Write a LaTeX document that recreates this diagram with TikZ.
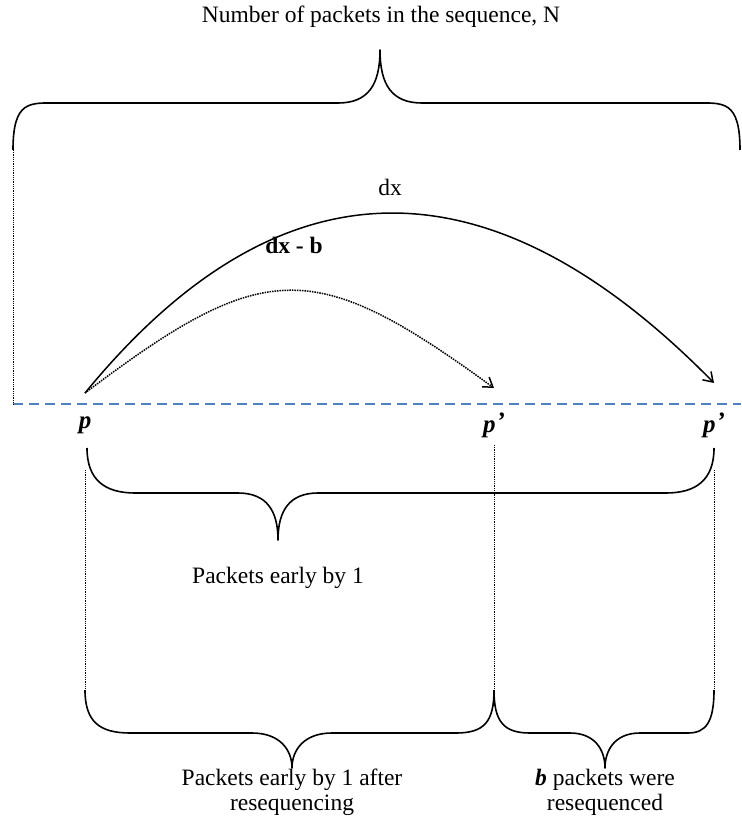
\documentclass[tikz,border=0pt]{standalone}
\usepackage{fontspec}
\setmainfont{Liberation Serif}
\usetikzlibrary{arrows.meta}
\definecolor{axisblue}{RGB}{79,129,189}
\tikzset{
  lbl/.style={font=\fontsize{23.5}{25}\selectfont, inner sep=0pt, align=center},
  plbl/.style={font=\fontsize{25}{28}\selectfont\bfseries\itshape, inner sep=0pt},
  brace/.style={line width=1.6pt, line join=round},
  guide/.style={densely dotted, line width=0.8pt},
  arc/.style={line width=1.5pt, -{Straight Barb[length=9pt,width=12pt]}},
  darc/.style={line width=1.5pt, densely dotted, -{Straight Barb[length=9pt,width=12pt]}},
  axis/.style={dash pattern=on 10pt off 6pt, color=axisblue, line width=1.2pt}
}
\begin{document}
\begin{tikzpicture}[x=1pt,y=-1pt]
\useasboundingbox (0,0) rectangle (741,821);
% title
\node[lbl] (title) at (381,17) {Number of packets in the sequence, N};
% top brace
\coordinate (tl) at (13,150);
\coordinate (tr) at (740,150);
\coordinate (tt) at (380,50);
\draw[brace] (tl) .. controls (13,100) and (30,103) .. (57,103) -- (338,103)
  .. controls (368,103) and (380,85) .. (tt)
  .. controls (380,85) and (392,103) .. (422,103) -- (696,103)
  .. controls (723,103) and (740,100) .. (tr);
% axis
\coordinate (al) at (13,404);
\coordinate (ar) at (741,404);
\draw[axis] (al) -- (ar);
\draw[guide] (tl) -- (al);
% points
\coordinate (p0) at (85,393);
\coordinate (p1) at (494,388);
\coordinate (p2) at (714,383);
\node[plbl] (pl) at (85,425) {p};
\node[plbl] (pl1) at (494,425) {p\kern1pt\raisebox{3pt}{\textquoteright}};
\node[plbl] (pl2) at (714,425) {p\kern1pt\raisebox{3pt}{\textquoteright}};
% arcs
\draw[arc] (p0) .. controls (280,155) and (490,155) .. (p2);
\node[lbl] (dx) at (390,187) {dx};
\draw[darc] (p0) .. controls (265,257) and (314,257) .. (p1);
\node[lbl, font=\fontsize{23.5}{25}\selectfont\bfseries] (dxb) at (294,245) {dx - b};
% bottom brace 1
\coordinate (b1l) at (87,448);
\coordinate (b1r) at (714,448);
\coordinate (b1t) at (278,540);
\draw[brace] (b1l) .. controls (87,480) and (105,493) .. (135,493) -- (238,493)
  .. controls (266,493) and (278,510) .. (b1t)
  .. controls (278,510) and (290,493) .. (318,493) -- (666,493)
  .. controls (696,493) and (714,480) .. (b1r);
\node[lbl] (early) at (278,578) {Packets early by 1};
% guides
\coordinate (g0) at (85,690);
\coordinate (g1) at (494,690);
\coordinate (g2) at (714,690);
\draw[guide] (85,470) -- (g0);
\draw[guide] (494,445) -- (g1);
\draw[guide] (714,470) -- (g2);
% bottom brace 2
\coordinate (b2t) at (292,768);
\draw[brace] (g0) .. controls (85,722) and (100,733) .. (130,733) -- (252,733)
  .. controls (280,733) and (292,750) .. (b2t)
  .. controls (292,750) and (304,733) .. (332,733) -- (456,733)
  .. controls (484,733) and (494,722) .. (g1);
% bottom brace 3
\coordinate (b3t) at (605,768);
\draw[brace] (g1) .. controls (494,722) and (504,733) .. (530,733) -- (570,733)
  .. controls (595,733) and (605,750) .. (b3t)
  .. controls (605,750) and (615,733) .. (640,733) -- (688,733)
  .. controls (706,733) and (714,722) .. (g2);
\node[lbl] (after) at (292,792) {Packets early by 1 after\\resequencing};
\node[lbl] (bres) at (605,792) {\textbf{\textit{b}} packets were\\resequenced};
\end{tikzpicture}
\end{document}
